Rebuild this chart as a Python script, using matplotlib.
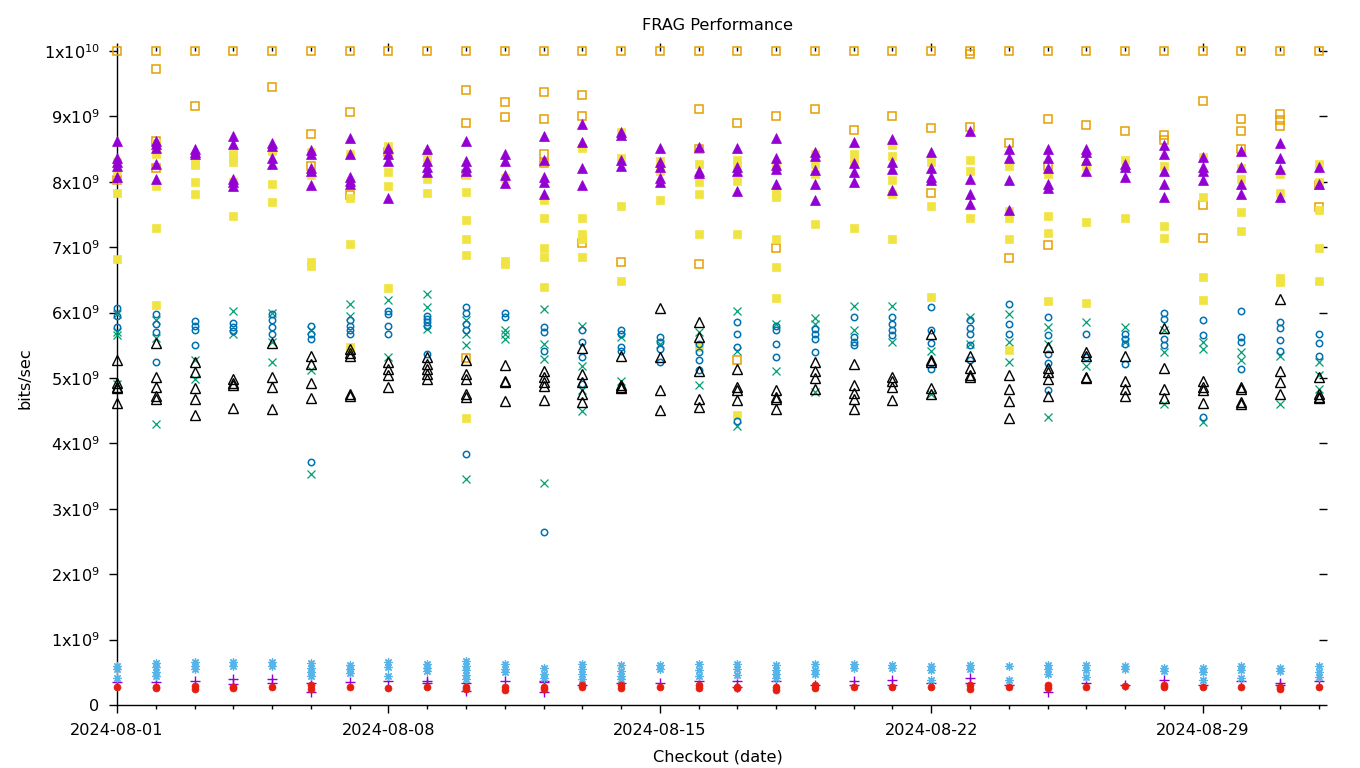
import numpy as np
import pandas as pd
import matplotlib
matplotlib.use('Agg')
import matplotlib.pyplot as plt
import matplotlib.dates as mdates
from matplotlib.ticker import FixedLocator

plt.rcParams['font.family'] = ['DejaVu Sans']

# ---- data (values in units of 1e9 bits/sec), one list per day ----
dates = pd.date_range('2024-08-01', '2024-09-01', freq='D')

plus_vals = [[0.35], [0.35], [0.37], [0.39, 0.32], [0.39, 0.34], [0.33, 0.2], [0.35], [0.37],
             [0.36, 0.33], [0.33, 0.21], [0.36], [0.37, 0.35, 0.2], [0.31], [0.33], [0.33], [0.36],
             [0.37, 0.28], [0.36], [0.31], [0.36, 0.31], [0.38, 0.31], [0.34], [0.41, 0.33], [0.3],
             [0.2], [0.34], [0.3], [0.38], [0.3], [0.36], [0.34, 0.3], [0.36]]

cross_vals = [[5.98, 5.70, 5.66, 4.91], [5.88, 5.61, 4.3], [5.27, 4.99], [6.03, 5.68],
              [6.0, 5.55, 5.24], [5.74, 5.12, 3.53], [6.13, 5.95], [6.2, 5.32],
              [6.28, 6.08, 5.75], [5.88, 5.68, 5.5, 3.46], [5.73, 5.68, 5.6], [6.06, 5.52, 5.29, 3.40],
              [5.8, 5.19, 4.81, 4.5], [5.62, 4.96], [5.52], [5.7, 4.89],
              [6.03, 5.42, 4.27], [5.82, 5.11], [5.92, 5.82, 4.78], [6.1, 5.73],
              [6.1, 5.55], [5.42, 4.76], [5.93, 5.52], [5.98, 5.55, 5.24],
              [5.78, 5.52, 4.41], [5.85, 5.19], [5.78, 5.55], [5.73, 5.39, 4.6],
              [5.55, 5.44, 4.33], [5.39, 5.27], [5.34, 4.61], [5.24, 5.04, 4.83]]

star_vals = [[0.6, 0.55, 0.41], [0.64, 0.58, 0.5, 0.44], [0.66, 0.6, 0.55], [0.65, 0.6],
             [0.66, 0.6], [0.64, 0.57, 0.5, 0.45], [0.61, 0.55, 0.49], [0.66, 0.58, 0.45],
             [0.63, 0.57, 0.52], [0.67, 0.6, 0.53, 0.46, 0.39], [0.62, 0.55, 0.5], [0.56, 0.47, 0.41],
             [0.63, 0.55, 0.47, 0.4], [0.61, 0.52, 0.44, 0.39], [0.61, 0.55], [0.62, 0.53, 0.45],
             [0.62, 0.55, 0.46], [0.61, 0.54, 0.47, 0.41], [0.62, 0.53, 0.47], [0.62, 0.56],
             [0.61, 0.57], [0.59, 0.54, 0.38], [0.61, 0.55], [0.59, 0.38],
             [0.61, 0.55, 0.48], [0.61, 0.53, 0.43], [0.59, 0.55], [0.57, 0.52],
             [0.56, 0.5, 0.38], [0.59, 0.53, 0.41], [0.56, 0.52], [0.59, 0.51, 0.43]]

osq_vals = [[10, 8.03], [10, 9.72, 8.63, 8.21], [10, 9.16], [10], [10, 9.45], [10, 8.73, 8.24],
            [10, 9.06, 7.8], [10, 8.45], [10], [10, 9.40, 8.9, 8.12, 5.31], [10, 9.22, 8.99],
            [10, 9.38, 8.96, 8.42, 8.28], [10, 9.32, 9.01, 7.07], [10, 6.78], [10],
            [10, 9.12, 8.5, 6.74], [10, 8.9, 5.27], [10, 9.0, 6.99], [10, 9.11], [10, 8.79],
            [10, 9.0], [10, 8.82, 7.83], [10, 9.95, 8.84], [10, 8.6, 6.83], [10, 8.96, 8.24, 7.04],
            [10, 8.87], [10, 8.77], [10, 8.72, 8.64], [10, 9.23, 7.64, 7.14], [10, 8.96, 8.78, 8.5],
            [10, 9.03, 8.94, 8.86], [10, 7.95, 7.61]]

fsq_vals = [[8.3, 8.17, 7.83, 6.82], [8.42, 8.6, 7.93, 7.29, 6.11], [8.4, 8.3, 8.25, 8.0, 7.82],
            [8.42, 8.35, 8.3, 8.0, 7.47], [8.5, 8.47, 7.97, 7.69], [8.45, 8.1, 6.78, 6.72],
            [8.42, 7.98, 7.75, 7.05, 5.47], [8.55, 8.15, 7.93, 6.37], [8.44, 8.3, 8.04, 7.83],
            [8.1, 7.85, 7.42, 7.12, 6.88, 4.39], [8.06, 6.79, 6.74], [7.72, 7.45, 6.99, 6.85, 6.39],
            [8.51, 7.45, 7.2, 7.12, 6.85], [8.76, 8.37, 7.63, 6.49], [8.32, 8.17, 7.72],
            [8.27, 7.99, 7.82, 7.2, 5.47], [8.34, 8.22, 8.01, 7.2, 4.43],
            [8.23, 7.83, 7.76, 7.13, 6.69, 6.22], [8.42, 8.27, 8.12, 7.35], [8.42, 8.3, 7.3],
            [8.57, 8.39, 8.03, 7.82, 7.12], [8.3, 7.63, 6.24], [8.34, 8.17, 7.44],
            [8.24, 7.55, 7.44, 7.12, 5.43], [8.12, 7.47, 7.22, 6.17], [8.24, 7.38, 6.15],
            [8.34, 7.44], [8.24, 7.33, 7.14], [8.38, 7.77, 6.54, 6.19], [8.21, 8.04, 7.54, 7.25],
            [8.12, 7.83, 6.53, 6.47], [8.27, 8.0, 7.57, 6.99, 6.49]]

ocirc_vals = [[6.07, 5.95, 5.78], [5.98, 5.83, 5.7, 5.24], [5.87, 5.8, 5.73, 5.5], [5.84, 5.78, 5.72],
              [5.98, 5.88, 5.78, 5.68], [5.79, 5.68, 5.6, 3.71], [5.88, 5.79, 5.73, 5.68],
              [6.03, 5.98, 5.79, 5.68], [5.95, 5.9, 5.85, 5.8, 5.37], [6.08, 6.0, 5.83, 5.73, 3.84],
              [6.0, 5.93], [5.78, 5.7, 5.42, 2.64], [5.73, 5.55, 5.32, 4.91], [5.73, 5.68, 5.47, 5.42],
              [5.62, 5.55, 5.44, 5.24], [5.52, 5.39, 5.27, 5.12], [5.85, 5.68, 5.48, 4.35],
              [5.8, 5.73, 5.52, 5.32], [5.75, 5.68, 5.6, 5.4], [5.93, 5.62, 5.55, 5.5],
              [5.93, 5.83, 5.73, 5.65], [6.09, 5.73, 5.53, 5.14], [5.88, 5.77, 5.67, 5.5, 5.28],
              [6.13, 5.83, 5.68], [5.93, 5.65, 5.36, 5.23, 4.82], [5.68, 5.32],
              [5.68, 5.6, 5.52, 5.22], [6.0, 5.9, 5.6, 5.5], [5.88, 5.65, 4.4],
              [6.02, 5.62, 5.55, 5.14], [5.85, 5.77, 5.58, 5.42], [5.68, 5.53, 5.34]]

fcirc_vals = [[0.28], [0.28, 0.26], [0.29, 0.25], [0.28, 0.26], [0.27], [0.31, 0.25], [0.28], [0.26],
              [0.27], [0.28, 0.25], [0.28, 0.23], [0.28, 0.25], [0.3, 0.28], [0.31, 0.26], [0.28],
              [0.31, 0.26], [0.28, 0.26], [0.28, 0.23], [0.3, 0.26], [0.28], [0.27], [0.27],
              [0.31, 0.25], [0.28], [0.31, 0.26], [0.28], [0.29], [0.31, 0.28], [0.28], [0.27],
              [0.28, 0.25], [0.27]]

otri_vals = [[5.28, 4.93, 4.87, 4.84, 4.62], [5.53, 5.02, 4.87, 4.73, 4.68], [5.24, 5.09, 4.84, 4.68, 4.43],
             [4.99, 4.93, 4.9, 4.54], [5.53, 5.01, 4.87, 4.53], [5.34, 5.21, 4.93, 4.69],
             [5.45, 5.38, 5.34, 4.76, 4.73], [5.24, 5.14, 5.04, 4.87], [5.32, 5.22, 5.14, 5.06, 4.99],
             [5.27, 5.06, 4.99, 4.76, 4.71], [5.2, 4.96, 4.94, 4.65], [5.11, 5.01, 4.94, 4.88, 4.67],
             [5.46, 5.06, 4.94, 4.76, 4.64], [5.33, 4.9, 4.87, 4.84], [6.07, 5.32, 4.81, 4.51],
             [5.85, 5.62, 5.11, 4.68, 4.55], [5.14, 4.87, 4.82, 4.66], [4.81, 4.71, 4.68, 4.53],
             [5.24, 5.1, 5.0, 4.83], [5.21, 4.9, 4.77, 4.68, 4.53], [5.01, 4.96, 4.87, 4.66],
             [5.67, 5.27, 5.24, 4.85, 4.76], [5.34, 5.15, 5.04, 5.01], [5.05, 4.83, 4.65, 4.39],
             [5.47, 5.16, 5.09, 4.99, 4.73], [5.39, 5.34, 5.02, 5.0], [5.33, 4.96, 4.83, 4.72],
             [5.77, 5.15, 4.83, 4.69], [4.96, 4.86, 4.81, 4.62], [4.86, 4.83, 4.63, 4.61],
             [6.21, 5.1, 4.94, 4.76], [5.01, 4.76, 4.71, 4.69]]

ftri_vals = [[8.62, 8.37, 8.30, 8.24, 8.08], [8.63, 8.58, 8.52, 8.27, 8.04], [8.5, 8.45, 8.42],
             [8.70, 8.58, 8.05, 7.99, 7.93], [8.6, 8.55, 8.37, 8.27], [8.48, 8.42, 8.21, 8.17, 7.95],
             [8.67, 8.43, 8.07, 8.01, 7.97], [8.52, 8.42, 8.32, 7.75], [8.5, 8.32, 8.22, 8.15],
             [8.63, 8.32, 8.22, 8.17], [8.42, 8.32, 8.1, 7.98], [8.70, 8.34, 8.08, 8.0, 7.81],
             [8.88, 8.61, 8.21, 7.95], [8.76, 8.72, 8.34, 8.24], [8.51, 8.3, 8.22, 8.06, 7.99],
             [8.53, 8.17, 8.13], [8.51, 8.23, 8.17, 7.86], [8.67, 8.36, 8.26, 8.2, 7.96],
             [8.46, 8.4, 8.18, 7.96, 7.72], [8.61, 8.28, 8.15, 8.0], [8.65, 8.31, 8.2, 7.87],
             [8.46, 8.21, 8.08, 8.02], [8.77, 8.04, 7.81, 7.66], [8.5, 8.37, 8.02, 7.57],
             [8.5, 8.37, 8.21, 7.96, 7.9], [8.5, 8.45, 8.33, 8.17], [8.27, 8.22, 8.08],
             [8.56, 8.42, 8.17, 7.96, 7.77], [8.38, 8.22, 8.16, 8.03], [8.47, 8.23, 7.96, 7.82],
             [8.59, 8.37, 8.2, 7.76], [8.23, 7.96]]

ytick_vals = list(range(0, 11))
ytick_labels = ['0'] + ['%dx10$^{9}$' % k for k in range(1, 10)] + ['1x10$^{10}$']
xmajor_dates = ['2024-08-01', '2024-08-08', '2024-08-15', '2024-08-22', '2024-08-29']

# ---- figure ----
fig = plt.figure(figsize=(13.6, 7.68), dpi=100)
ax = fig.add_axes([117 / 1360, 1 - 705 / 768, (1319 - 117) / 1360, (705 - 51) / 768])

xnum = mdates.date2num(dates.to_pydatetime())


def flatten(vals):
    xs, ys = [], []
    for xv, day in zip(xnum, vals):
        for v in day:
            xs.append(xv)
            ys.append(v * 1e9)
    return xs, ys


series = [
    (plus_vals, dict(marker='+', color='#9400D3', ms=6.5, mew=1.0, ls='none')),
    (cross_vals, dict(marker='x', color='#009E73', ms=5.2, mew=0.9, ls='none')),
    (star_vals, dict(marker=(8, 2, 0), color='#56B4E9', ms=6, mew=0.9, ls='none')),
    (osq_vals, dict(marker='s', mec='#E69F00', mfc='none', ms=5.2, mew=1.1, ls='none')),
    (fsq_vals, dict(marker='s', color='#F0E442', mec='#F0E442', ms=5.2, mew=0.5, ls='none')),
    (ocirc_vals, dict(marker='o', mec='#0072B2', mfc='none', ms=4.6, mew=1.1, ls='none')),
    (fcirc_vals, dict(marker='o', color='#E51E10', mec='#E51E10', ms=5, mew=0.5, ls='none')),
    (otri_vals, dict(marker='^', mec='black', mfc='none', ms=6.5, mew=1.0, ls='none')),
    (ftri_vals, dict(marker='^', color='#9400D3', mec='#9400D3', ms=6.8, mew=0.5, ls='none')),
]

for i, (vals, style) in enumerate(series):
    xs, ys = flatten(vals)
    ax.plot(xs, ys, clip_on=False, zorder=3 + i, **style)

ax.set_xlim(mdates.date2num(pd.Timestamp('2024-08-01')), mdates.date2num(pd.Timestamp('2024-09-01')))
ax.set_ylim(0, 1e10)

ax.set_yticks([v * 1e9 for v in ytick_vals])
ax.set_yticklabels(ytick_labels)

ax.xaxis.set_major_locator(FixedLocator(mdates.date2num(pd.to_datetime(xmajor_dates).to_pydatetime())))
ax.xaxis.set_minor_locator(mdates.DayLocator())
ax.xaxis.set_major_formatter(mdates.DateFormatter('%Y-%m-%d'))

for s in ['top', 'right']:
    ax.spines[s].set_visible(False)
for s in ['left', 'bottom']:
    ax.spines[s].set_linewidth(1.0)
    ax.spines[s].set_zorder(2)

ax.tick_params(which='both', direction='out', top=True, right=True, width=1.0, labelsize=11.6)
ax.tick_params(axis='x', which='major', length=6, pad=7)
ax.tick_params(axis='x', which='minor', length=3)
ax.tick_params(axis='y', which='major', length=5.5, pad=7)

ax.set_title('FRAG Performance', fontsize=11.6, pad=15)
ax.set_xlabel('Checkout (date)', fontsize=11.6, labelpad=8)
ax.set_ylabel('bits/sec', fontsize=11.6, labelpad=8)

fig.savefig('out.png', dpi=100)
